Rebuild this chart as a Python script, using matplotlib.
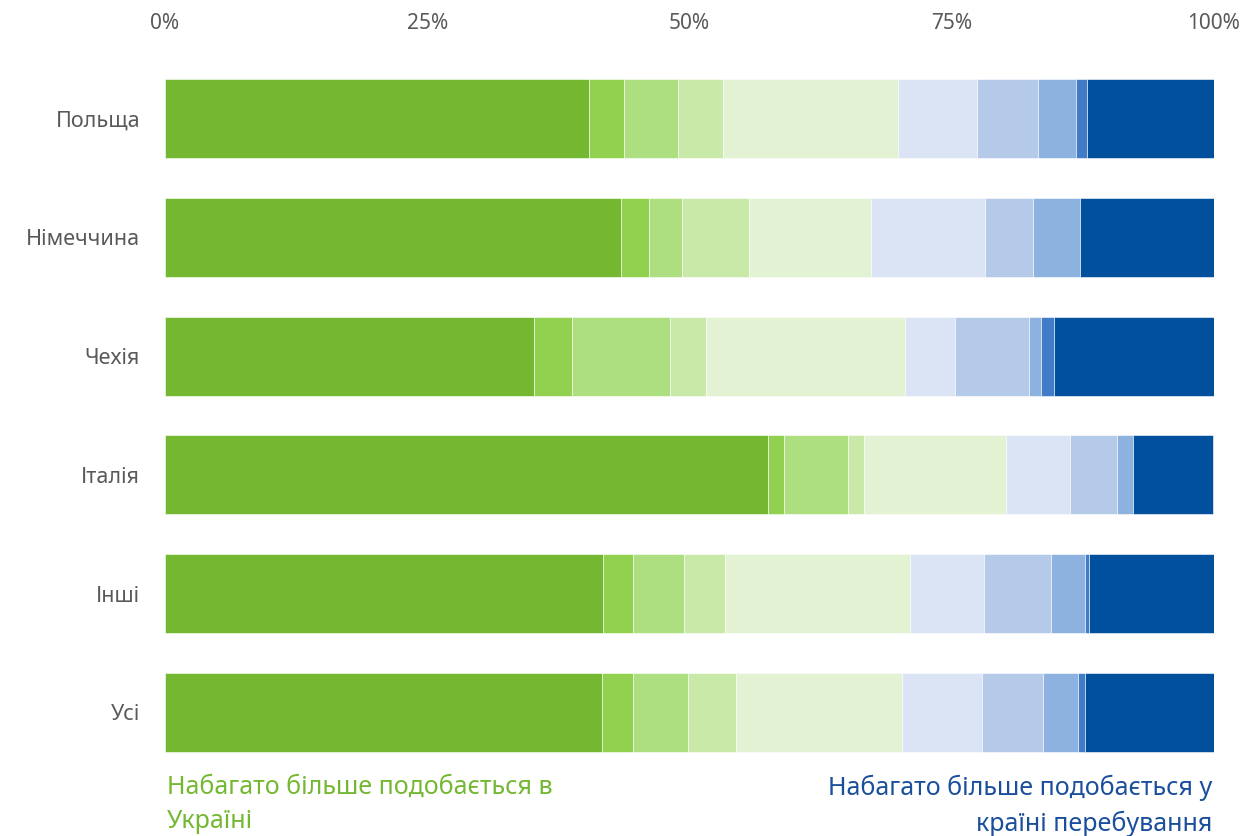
import matplotlib
matplotlib.use("Agg")
import matplotlib.pyplot as plt
import numpy as np

categories = ["Польща", "Німеччина", "Чехія", "Італія", "Інші", "Усі"]

# ten answer levels, from "much more like in Ukraine" to "much more like in host country"
s1 = [40.4, 43.5, 35.2, 57.5, 41.8, 41.7]
s2 = [3.4, 2.6, 3.6, 1.5, 2.8, 2.9]
s3 = [5.1, 3.2, 9.3, 6.1, 4.9, 5.3]
s4 = [4.3, 6.4, 3.5, 1.5, 3.9, 4.5]
s5 = [16.7, 11.6, 18.9, 13.6, 17.6, 15.9]
s6 = [7.5, 10.9, 4.8, 6.1, 7.1, 7.6]
s7 = [5.8, 4.5, 7.1, 4.5, 6.4, 5.8]
s8 = [3.6, 4.5, 1.1, 1.5, 3.2, 3.3]
s9 = [1.1, 0.0, 1.2, 0.0, 0.4, 0.7]
s10 = [12.1, 12.9, 15.3, 7.6, 11.9, 12.4]

tick_values = [0, 25, 50, 75, 100]
tick_labels = ["0%", "25%", "50%", "75%", "100%"]

left_note = "Набагато більше подобається в\nУкраїні"
right_note = "Набагато більше подобається у\nкраїні перебування"

colors = ["#74B832", "#92D050", "#ADDF80", "#C8E9A8", "#E3F2D3",
          "#DAE4F4", "#B5CAE8", "#8EB2DF", "#427CC9", "#00509D"]

plt.rcParams['font.family'] = ['Noto Sans', 'DejaVu Sans']

fig = plt.figure(figsize=(12.45, 8.36), dpi=100)
ax = fig.add_axes([165/1245, 1 - 771.9/836, 1049/1245, (771.9 - 59.1)/836])

series = [s1, s2, s3, s4, s5, s6, s7, s8, s9, s10]
y = np.arange(len(categories))
left = np.zeros(len(categories))
for vals, c in zip(series, colors):
    v = np.array(vals)
    ax.barh(y, v, left=left, height=0.665, color=c, edgecolor='white', linewidth=0.4)
    left += v

ax.set_xlim(0, 100)
ax.set_ylim(len(categories) - 0.5, -0.5)
ax.set_yticks(y)
ax.set_yticklabels(categories, fontsize=15.5, color="#595959")
ax.xaxis.tick_top()
ax.set_xticks(tick_values)
ax.set_xticklabels(tick_labels, fontsize=15, color="#595959")
ax.tick_params(axis='both', length=0)
ax.tick_params(axis='y', pad=18)
ax.tick_params(axis='x', pad=18)
for sp in ax.spines.values():
    sp.set_visible(False)

fig.text(167/1245, 1 - 775/836, left_note, ha='left', va='top', fontsize=18,
         color="#74B832", linespacing=1.45)
fig.text(1212/1245, 1 - 775/836, right_note, ha='right', va='top', fontsize=18,
         color="#1B4F9C", linespacing=1.45)

fig.savefig("out.png", dpi=100)
